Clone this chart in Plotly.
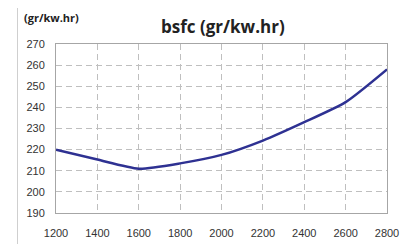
import plotly.graph_objects as go

rpm = [1200, 1400, 1600, 1800, 2000, 2200, 2400, 2600, 2800]
bsfc = [220, 215.3, 211, 213.5, 217.5, 224.3, 233, 242.5, 258]
x_ticks = [1200, 1400, 1600, 1800, 2000, 2200, 2400, 2600, 2800]
y_ticks = [190, 200, 210, 220, 230, 240, 250, 260, 270]

OFF = 8  # default body margin of the page
W, H = 411 - OFF, 244 - OFF
L, R, T, B = 56 - OFF, 24, 44 - OFF, 31
pw, ph = W - L - R, H - T - B

def px(x):
    return (x - OFF - L) / pw

def py(y):
    return (H - B - (y - OFF)) / ph

fig = go.Figure()
fig.add_trace(go.Scatter(x=rpm, y=bsfc, mode="lines",
                         line=dict(color="#2E3192", width=2.5, shape="spline", smoothing=0.6),
                         showlegend=False, hoverinfo="skip"))

axis_common = dict(showline=True, linecolor="#A6A6A6", linewidth=1, mirror=True,
                   showgrid=True, gridcolor="#BFBFBF", griddash="6px,4px", gridwidth=1,
                   zeroline=False, ticks="", automargin=False,
                   tickfont=dict(family="Liberation Sans, Arial", size=11, color="#333333"))

fig.update_xaxes(range=[1200, 2800], tickvals=x_ticks, ticklabelstandoff=10, **axis_common)
fig.update_yaxes(range=[190, 270], tickvals=y_ticks, ticklabelstandoff=8, **axis_common)

# outer chart frame (light gray box)
fig.add_annotation(text=" ", xref="paper", yref="paper", x=px(17), y=py(5),
                   xanchor="left", yanchor="top", showarrow=False,
                   width=390, height=260, borderpad=0, borderwidth=1,
                   bordercolor="#CFCFCF", bgcolor="rgba(0,0,0,0)")

fig.add_annotation(text="<b>bsfc (gr/kw.hr)</b>", xref="paper", yref="paper",
                   x=px(222.5), y=py(27), showarrow=False, xanchor="center", yanchor="middle",
                   font=dict(family="Open Sans, Liberation Sans", size=17, color="#222222"))
fig.add_annotation(text="<b>(gr/kw.hr)</b>", xref="paper", yref="paper",
                   x=px(22), y=py(17), showarrow=False, xanchor="left", yanchor="middle",
                   font=dict(family="Open Sans, Liberation Sans", size=11, color="#222222"))

fig.update_layout(width=W, height=H, margin=dict(l=L, r=R, t=T, b=B),
                  paper_bgcolor="white", plot_bgcolor="white")
fig.write_html("out.html")
